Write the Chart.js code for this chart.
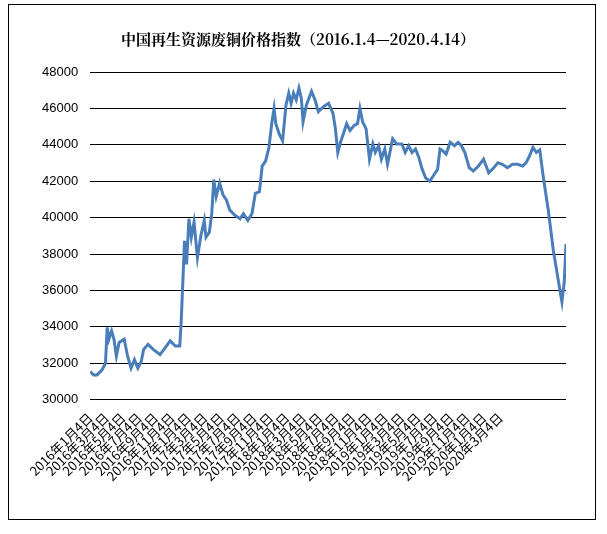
<!DOCTYPE html>
<html><head><meta charset="utf-8">
<script src="https://cdn.jsdelivr.net/npm/chart.js@4"></script>
<style>
body{margin:0;background:#fff;}
#wrap{position:relative;width:607px;height:534px;}
#frame{position:absolute;left:8px;top:4px;width:588px;height:516px;border:1px solid #000;box-sizing:border-box;pointer-events:none;}
canvas{position:absolute;left:0;top:0;}
</style></head>
<body><div id="wrap"><canvas id="c" width="607" height="534"></canvas><div id="frame"></div></div>
<script>
const titleText = '中国再生资源废铜价格指数（2016.1.4—2020.4.14）';
const tickLabels = ['2016年1月4日','2016年3月4日','2016年5月4日','2016年7月4日','2016年9月4日','2016年11月4日',
'2017年1月4日','2017年3月4日','2017年5月4日','2017年7月4日','2017年9月4日','2017年11月4日',
'2018年1月4日','2018年3月4日','2018年5月4日','2018年7月4日','2018年9月4日','2018年11月4日',
'2019年1月4日','2019年3月4日','2019年5月4日','2019年7月4日','2019年9月4日','2019年11月4日',
'2020年1月4日','2020年3月4日','','','',''];
const tradingDay = [0,10,20,35,45,50,55,63,70,77,85,100,110,120,130,140,150,157,170,185,205,220,235,250,263,267,273,277,283,290,297,305,315,325,335,340,350,357,363,370,380,390,400,410,425,440,450,463,475,485,497,505,515,525,533,540,545,555,565,575,583,590,597,605,613,620,625,635,650,660,670,685,700,713,720,727,735,745,753,763,775,785,792,800,810,820,830,837,847,855,865,873,880,888,900,915,925,935,945,955,965,975,985,997,1010,1020,1027,1035,1045,1057,1070,1080,1090,1100,1113,1125,1140,1155,1170,1185,1197,1210,1225,1240,1255,1270,1280,1290,1300,1310,1320,1330,1345,1360,1375,1385,1392,1397];
const priceIndex = [31550,31360,31360,31640,32000,33970,33320,33790,33320,32390,33140,33320,32390,31730,32200,31730,32100,32760,33040,32760,32480,32850,33230,32950,32950,34160,36870,38730,37430,39940,38920,39760,37800,39010,39850,38920,39200,40220,42090,41160,41900,41250,40970,40410,40130,39940,40220,39850,40220,41340,41430,42830,43110,43860,45160,46000,45160,44600,44230,46190,46840,46280,46840,46470,47120,46560,45260,46190,46940,46470,45820,46100,46280,45720,44890,43580,44140,44700,45160,44790,45070,45160,46000,45260,44890,43210,44050,43580,43950,43210,43770,42930,43580,44330,44050,44050,43580,43950,43580,43770,43300,42650,42180,42000,42370,42650,43770,43680,43490,44140,43950,44140,43950,43580,42740,42560,42830,43210,42460,42740,43020,42930,42740,42930,42930,42830,43020,43390,43860,43580,43720,42270,40410,38170,36490,35370,36490,38550];
const yTicks = [30000,32000,34000,36000,38000,40000,42000,44000,46000,48000];

new Chart(document.getElementById('c'), {
  type: 'line',
  data: { datasets: [{
    data: tradingDay.map((t,i)=>({x:t,y:priceIndex[i]})),
    borderColor: '#4a7ebb', borderWidth: 3, pointRadius: 0, tension: 0, fill: false
  }]},
  options: {
    responsive: false, animation: false, devicePixelRatio: 1,
    layout: { padding: { left: 30, right: 41, top: 18, bottom: 48 } },
    plugins: {
      legend: { display: false }, tooltip: { enabled: false },
      title: { display: true, text: titleText, color: '#000',
        font: { family: '"Noto Serif CJK SC","Noto Sans CJK SC"', size: 15, weight: 'bold' }, padding: { top: 12, bottom: 24 } }
    },
    scales: {
      x: { type: 'linear', min: 0, max: 1397, display: false },
      x2: { type: 'category', labels: tickLabels, position: 'bottom', offset: false,
        grid: { display: false }, border: { display: false },
        ticks: { autoSkip: false, maxRotation: 45, minRotation: 45, color: '#000', padding: 2,
          font: { family: '"Noto Sans CJK SC"', size: 13 } } },
      y: { min: 30000, max: 48000,
        afterBuildTicks: a => { a.ticks = yTicks.map(v=>({value:v})); },
        grid: { color: '#000', lineWidth: 1, drawTicks: false }, border: { display: false },
        ticks: { color: '#000', padding: 12, callback: v => String(v), font: { family: '"Liberation Sans"', size: 13 } } }
    }
  }
});
</script></body></html>
